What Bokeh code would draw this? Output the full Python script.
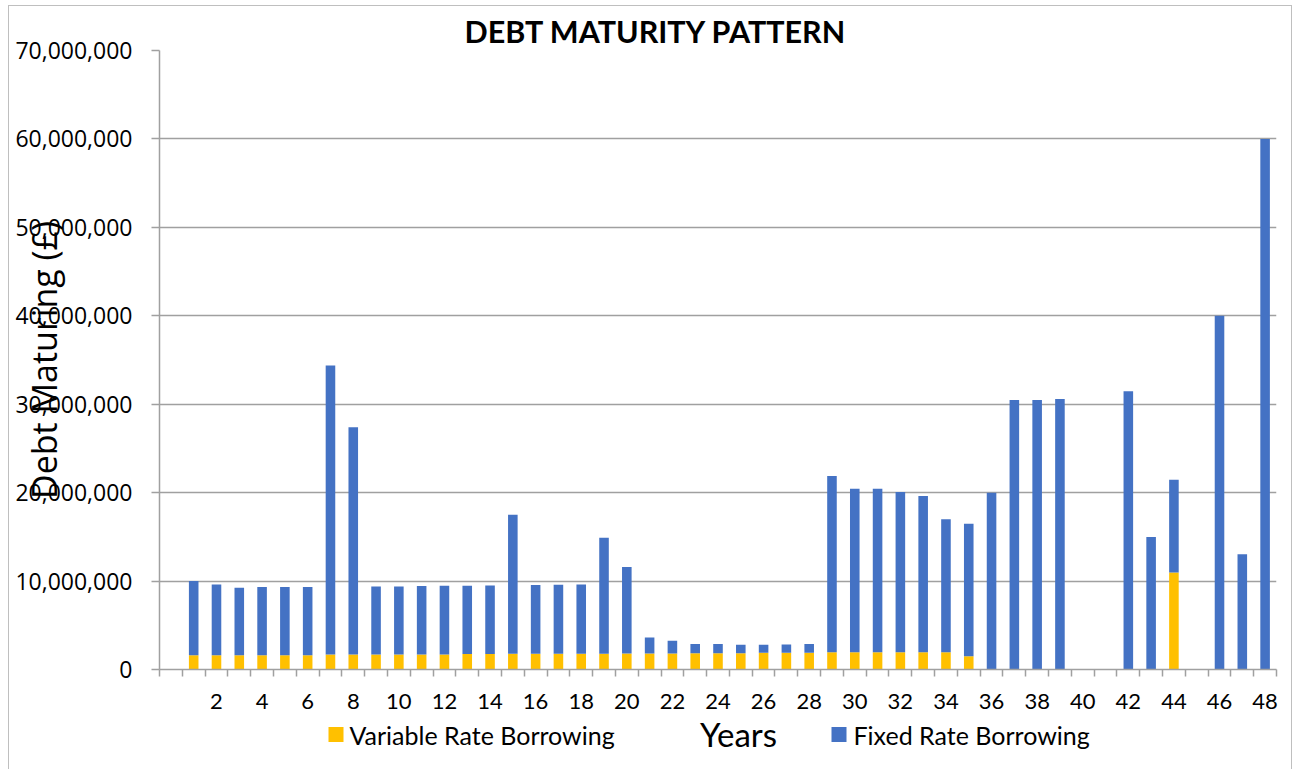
from bokeh.plotting import figure
from bokeh.layouts import column
from bokeh.models import (Range1d, FixedTicker, NumeralTickFormatter,
                          ColumnDataSource)
from bokeh.core.properties import value
from bokeh.embed import file_html
from bokeh.resources import INLINE

# ---- data (GBP) ----
years = list(range(1, 49))
variable_rate = [
    1620000, 1620000, 1620000, 1620000, 1620000, 1620000, 1700000, 1700000,
    1700000, 1700000, 1700000, 1700000, 1740000, 1740000, 1770000, 1770000,
    1770000, 1770000, 1770000, 1810000, 1810000, 1810000, 1850000, 1850000,
    1850000, 1890000, 1890000, 1890000, 1960000, 1960000, 1960000, 1960000,
    1960000, 1960000, 1510000, 0, 0, 0, 0, 0,
    0, 0, 0, 10980000, 0, 0, 0, 0,
]
fixed_rate = [
    8380000, 8000000, 7630000, 7700000, 7700000, 7700000, 32680000, 25700000,
    7700000, 7700000, 7730000, 7770000, 7730000, 7770000, 15740000, 7780000,
    7810000, 7850000, 13140000, 9770000, 1810000, 1440000, 1020000, 1020000,
    940000, 900000, 940000, 980000, 19930000, 18490000, 18490000, 18120000,
    17660000, 15020000, 14980000, 20000000, 30490000, 30490000, 30600000, 0,
    0, 31470000, 14980000, 10490000, 0, 40000000, 13020000, 60000000,
]
x_tick_values = list(range(2, 49, 2))
x_tick_labels = [str(v) for v in x_tick_values]
y_tick_values = list(range(0, 70000001, 10000000))
series_names = ["Variable Rate Borrowing", "Fixed Rate Borrowing"]
series_colors = ["#FFC000", "#4472C4"]

title_text = "DEBT MATURITY PATTERN"
y_title = "Debt Maturing (£)"
x_title = "Years"

W = 1282
src = ColumnDataSource(dict(year=years, var=variable_rate, fix=fixed_rate))

# ---------------- main chart ----------------
p = figure(width=W, height=707,
           x_range=Range1d(-0.5, 48.5), y_range=Range1d(0, 70000000),
           output_backend="svg", toolbar_location=None,
           min_border_left=150, min_border_right=15,
           min_border_top=44, min_border_bottom=44)
p.outline_line_color = None
p.background_fill_color = "white"
p.border_fill_color = "white"

p.title.text = title_text
p.title.align = "left"
p.title.offset = 305
p.title.text_font = "Lato"
p.title.text_font_style = "bold"
p.title.text_font_size = "30.5px"
p.title.text_color = "black"
p.title.standoff = 4

p.vbar_stack(["var", "fix"], x="year", width=0.42,
             color=series_colors, line_color=None, source=src)

# grid
p.xgrid.grid_line_color = None
p.ygrid.grid_line_color = "#A0A0A0"
p.ygrid.grid_line_width = 1.5
p.ygrid.ticker = FixedTicker(ticks=y_tick_values)

# y axis
yax = p.yaxis[0]
yax.ticker = FixedTicker(ticks=y_tick_values)
yax.formatter = NumeralTickFormatter(format="0,0")
yax.axis_line_color = "#A0A0A0"
yax.axis_line_width = 1.5
yax.major_tick_line_color = "#A0A0A0"
yax.major_tick_line_width = 1.5
yax.major_tick_out = 8
yax.major_tick_in = 0
yax.minor_tick_line_color = None
yax.major_label_standoff = 19
yax.major_label_text_font = "Open Sans"
yax.major_label_text_font_size = "23px"
yax.major_label_text_color = "black"
yax.axis_label = y_title
yax.axis_label_text_font = "Open Sans"
yax.axis_label_text_font_size = "34px"
yax.axis_label_text_font_style = "normal"
yax.axis_label_text_color = "black"
yax.axis_label_standoff = -55

# x axis
xax = p.xaxis[0]
xax.ticker = FixedTicker(ticks=x_tick_values,
                         minor_ticks=[i - 0.5 for i in range(0, 50)])
xax.major_label_overrides = {v: l for v, l in zip(x_tick_values, x_tick_labels)}
xax.axis_line_color = "#A0A0A0"
xax.axis_line_width = 1.5
xax.major_tick_line_color = None
xax.major_tick_out = 0
xax.major_tick_in = 0
xax.minor_tick_line_color = "#A0A0A0"
xax.minor_tick_line_width = 1.5
xax.minor_tick_out = 7
xax.minor_tick_in = 0
xax.major_label_standoff = 17
xax.major_label_text_font = "Lato"
xax.major_label_text_font_size = "22px"
xax.major_label_text_color = "black"

# ---------------- legend / x title strip ----------------
# the strip's frame is aligned with the main frame (page x 159..1276)
H2 = 56
q = figure(width=W, height=H2, x_range=Range1d(159, 1276), y_range=Range1d(0, H2),
           output_backend="svg", toolbar_location=None,
           x_axis_type=None, y_axis_type=None,
           min_border_left=150, min_border_right=15,
           min_border_top=0, min_border_bottom=0)
q.outline_line_color = None
q.grid.visible = False
q.background_fill_color = "white"
q.border_fill_color = "white"

leg_src = ColumnDataSource(dict(
    sx=[335.5, 838.5], sy=[35, 35], color=series_colors,
    tx=[349, 853], ty=[35, 35], name=series_names))
q.rect(x="sx", y="sy", width=15, height=15, fill_color="color",
       line_color=None, source=leg_src)
q.text(x="tx", y="ty", text="name", text_font=value("Lato"),
       text_font_size="25px", text_baseline="middle", text_align="left",
       text_color="black", source=leg_src)
q.text(x=[738], y=[36], text=[x_title], text_font=value("Lato"),
       text_font_size="33px", text_baseline="middle", text_align="center",
       text_color="black")

layout = column(p, q, spacing=0)
layout.styles = {"border": "1px solid #BFBFBF", "margin-left": "8px",
                 "margin-top": "5px"}

open("out.html", "w").write(file_html(layout, INLINE))
